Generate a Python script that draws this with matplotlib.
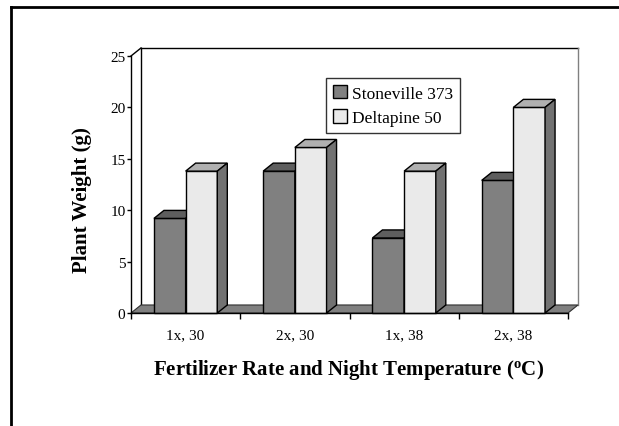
import matplotlib
matplotlib.use("Agg")
import matplotlib.pyplot as plt
from matplotlib.patches import Polygon, Rectangle, Patch
from matplotlib.lines import Line2D

plt.rcParams["font.family"] = ["Liberation Serif", "DejaVu Serif"]
plt.rcParams["mathtext.fontset"] = "custom"
plt.rcParams["mathtext.rm"] = "Liberation Serif"
plt.rcParams["mathtext.bf"] = "Liberation Serif:bold"

# data
categories = ["1x, 30", "2x, 30", "1x, 38", "2x, 38"]
series = ["Stoneville 373", "Deltapine 50"]
stoneville = [9.2, 13.8, 7.3, 12.9]
deltapine = [13.8, 16.1, 13.8, 20.0]
yticks = [0, 5, 10, 15, 20, 25]

# colours: front, top, side
styles = {
    "Stoneville 373": ("#808080", "#5e5e5e", "#707070"),
    "Deltapine 50": ("#eaeaea", "#b0b0b0", "#727272"),
}

fig = plt.figure(figsize=(6.19, 4.27), dpi=100)
ax = fig.add_axes([131 / 619, 1 - 314 / 427, 437 / 619, 257 / 427])
ax.set_xlim(0, len(categories))
ax.set_ylim(0, 25)

dx, dy = 0.0915, 0.78  # depth offset in data units
ymax = 25
n = len(categories)

# back wall and left wall outline
ax.plot([0, dx], [ymax, ymax + dy], color="black", lw=1, clip_on=False)
ax.plot([dx, dx], [dy, ymax + dy], color="black", lw=1, clip_on=False)
ax.plot([dx, n + dx], [ymax + dy, ymax + dy], color="black", lw=1, clip_on=False)
ax.plot([n + dx, n + dx], [dy, ymax + dy], color="#808080", lw=1, clip_on=False)

# floor
ax.add_patch(Polygon([(0, 0), (n, 0), (n + dx, dy), (dx, dy)], closed=True,
                     facecolor="#808080", edgecolor="#303030", lw=0.8,
                     clip_on=False, zorder=2))

w = 0.29
offsets = [0.21, 0.50]
for i in range(n):
    for s, vals, off in zip(series, [stoneville, deltapine], offsets):
        front, top, side = styles[s]
        x0 = i + off
        v = vals[i]
        ax.add_patch(Rectangle((x0, 0), w, v, facecolor=front,
                               edgecolor="black", lw=1, zorder=3, clip_on=False))
        ax.add_patch(Polygon([(x0, v), (x0 + w, v), (x0 + w + dx, v + dy), (x0 + dx, v + dy)],
                             closed=True, facecolor=top, edgecolor="black", lw=1,
                             zorder=3, clip_on=False))
        ax.add_patch(Polygon([(x0 + w, 0), (x0 + w, v), (x0 + w + dx, v + dy), (x0 + w + dx, dy)],
                             closed=True, facecolor=side, edgecolor="black", lw=1,
                             zorder=3, clip_on=False))

for sp in ["top", "right"]:
    ax.spines[sp].set_visible(False)
ax.spines["left"].set_linewidth(1)
ax.spines["bottom"].set_linewidth(1)
ax.spines["left"].set_zorder(4)
ax.spines["bottom"].set_zorder(4)
ax.patch.set_visible(False)

ax.set_yticks(yticks)
ax.set_yticklabels([str(t) for t in yticks])
ax.tick_params(axis="y", direction="out", length=3, width=1, pad=1, labelsize=11)
ax.set_xticks(range(n + 1))
ax.set_xticklabels([""] * (n + 1))
ax.set_xticks([i + 0.5 for i in range(n)], minor=True)
ax.set_xticklabels(categories, minor=True)
ax.tick_params(axis="x", which="major", direction="out", length=4, width=1)
ax.tick_params(axis="x", which="minor", length=0, pad=11, labelsize=11)

fig.text(82 / 619, 1 - 200 / 427, "Plant Weight (g)", rotation=90,
         ha="center", va="center", fontsize=15, fontweight="bold")
fig.text(348.5 / 619, 1 - 370 / 427,
         r"Fertilizer Rate and Night Temperature ($\mathbf{^o}$C)",
         ha="center", va="center", fontsize=15, fontweight="bold")

handles = [Patch(facecolor=styles[s][0], edgecolor="black", lw=1) for s in series]
leg = fig.legend(handles, series, loc="upper left",
                 bbox_to_anchor=(326 / 619, 1 - 79 / 427), borderaxespad=0,
                 fontsize=12.5, frameon=True, fancybox=False, handlelength=0.8,
                 handleheight=0.8, handletextpad=0.3, labelspacing=0.45,
                 borderpad=0.4)
leg.get_frame().set_edgecolor("black")
leg.get_frame().set_linewidth(1)

# outer frame
fig.add_artist(Line2D([11 / 619, 1], [1 - 8 / 427, 1 - 8 / 427], color="black", lw=2))
fig.add_artist(Line2D([11 / 619, 11 / 619], [0, 1 - 8 / 427], color="black", lw=2))

fig.savefig("out.png", dpi=100)
